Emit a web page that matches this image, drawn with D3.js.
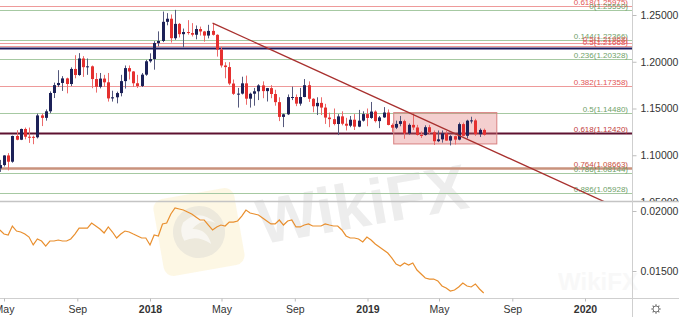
<!DOCTYPE html>
<html>
<head>
<meta charset="utf-8">
<script src="https://cdn.jsdelivr.net/npm/d3@7"></script>
<style>
  body { margin: 0; background: #fff; }
  svg { display: block; font-family: "Liberation Sans", Arial, sans-serif; }
</style>
</head>
<body>
<div id="chart"></div>
<script>
// weekly candles (week start)
var weeks = [
  "2017-04-24","2017-05-01","2017-05-08","2017-05-15","2017-05-22","2017-05-29","2017-06-05","2017-06-12","2017-06-19","2017-06-26",
  "2017-07-03","2017-07-10","2017-07-17","2017-07-24","2017-07-31","2017-08-07","2017-08-14","2017-08-21","2017-08-28","2017-09-04",
  "2017-09-11","2017-09-18","2017-09-25","2017-10-02","2017-10-09","2017-10-16","2017-10-23","2017-10-30","2017-11-06","2017-11-13",
  "2017-11-20","2017-11-27","2017-12-04","2017-12-11","2017-12-18","2017-12-25",
  "2018-01-01","2018-01-08","2018-01-15","2018-01-22","2018-01-29","2018-02-05","2018-02-12","2018-02-19","2018-02-26","2018-03-05",
  "2018-03-12","2018-03-19","2018-03-26","2018-04-02","2018-04-09","2018-04-16","2018-04-23","2018-04-30","2018-05-07","2018-05-14",
  "2018-05-21","2018-05-28","2018-06-04","2018-06-11","2018-06-18","2018-06-25","2018-07-02","2018-07-09","2018-07-16","2018-07-23",
  "2018-07-30","2018-08-06","2018-08-13","2018-08-20","2018-08-27","2018-09-03","2018-09-10","2018-09-17","2018-09-24","2018-10-01",
  "2018-10-08","2018-10-15","2018-10-22","2018-10-29","2018-11-05","2018-11-12","2018-11-19","2018-11-26","2018-12-03","2018-12-10",
  "2018-12-17","2018-12-24","2018-12-31",
  "2019-01-07","2019-01-14","2019-01-21","2019-01-28","2019-02-04","2019-02-11","2019-02-18","2019-02-25","2019-03-04","2019-03-11",
  "2019-03-18","2019-03-25","2019-04-01","2019-04-08","2019-04-15","2019-04-22","2019-04-29","2019-05-06","2019-05-13","2019-05-20",
  "2019-05-27","2019-06-03","2019-06-10","2019-06-17","2019-06-24","2019-07-01","2019-07-08","2019-07-15"
];

// open, high, low, close
var ohlc = [
  [1.0860,1.0950,1.0822,1.0895],[1.0895,1.1000,1.0880,1.0998],[1.0998,1.1023,1.0838,1.0931],[1.0931,1.1210,1.0920,1.1206],
  [1.1206,1.1268,1.1160,1.1166],[1.1166,1.1285,1.1162,1.1281],[1.1281,1.1296,1.1170,1.1198],[1.1198,1.1296,1.1132,1.1197],
  [1.1197,1.1210,1.1118,1.1192],[1.1192,1.1445,1.1180,1.1426],[1.1426,1.1445,1.1312,1.1400],[1.1400,1.1490,1.1370,1.1470],
  [1.1470,1.1683,1.1450,1.1666],[1.1666,1.1777,1.1612,1.1750],[1.1750,1.1910,1.1730,1.1773],[1.1773,1.1846,1.1688,1.1822],
  [1.1822,1.1830,1.1662,1.1762],[1.1762,1.1940,1.1740,1.1923],[1.1923,1.2070,1.1823,1.1858],[1.1858,1.2092,1.1850,1.2035],
  [1.2035,1.2060,1.1838,1.1942],[1.1942,1.2035,1.1860,1.1951],[1.1951,1.1960,1.1717,1.1815],[1.1815,1.1880,1.1670,1.1732],
  [1.1732,1.1880,1.1715,1.1820],[1.1820,1.1860,1.1730,1.1780],[1.1780,1.1880,1.1574,1.1608],[1.1608,1.1690,1.1574,1.1620],
  [1.1620,1.1680,1.1555,1.1665],[1.1665,1.1860,1.1630,1.1793],[1.1793,1.1960,1.1713,1.1932],[1.1932,1.1960,1.1810,1.1896],
  [1.1896,1.1900,1.1730,1.1770],[1.1770,1.1860,1.1720,1.1741],[1.1741,1.1880,1.1730,1.1862],[1.1862,1.2020,1.1850,1.2005],
  [1.2005,1.2090,1.1990,1.2029],[1.2029,1.2220,1.1915,1.2200],[1.2200,1.2325,1.2165,1.2222],[1.2222,1.2537,1.2210,1.2427],
  [1.2427,1.2520,1.2390,1.2460],[1.2460,1.2506,1.2205,1.2252],[1.2252,1.2555,1.2235,1.2405],[1.2405,1.2415,1.2260,1.2295],
  [1.2295,1.2355,1.2155,1.2318],[1.2318,1.2445,1.2290,1.2307],[1.2307,1.2413,1.2270,1.2289],[1.2289,1.2388,1.2240,1.2350],
  [1.2350,1.2376,1.2280,1.2324],[1.2324,1.2330,1.2215,1.2280],[1.2280,1.2395,1.2250,1.2330],[1.2330,1.2414,1.2280,1.2288],
  [1.2288,1.2294,1.2055,1.2130],[1.2130,1.2160,1.1938,1.1960],[1.1960,1.1995,1.1823,1.1943],[1.1943,1.1996,1.1750,1.1767],
  [1.1767,1.1810,1.1645,1.1657],[1.1657,1.1720,1.1510,1.1659],[1.1659,1.1840,1.1650,1.1769],[1.1769,1.1852,1.1540,1.1605],
  [1.1605,1.1670,1.1510,1.1658],[1.1658,1.1720,1.1530,1.1684],[1.1684,1.1760,1.1590,1.1747],[1.1747,1.1790,1.1610,1.1686],
  [1.1686,1.1720,1.1575,1.1718],[1.1718,1.1750,1.1610,1.1655],[1.1655,1.1700,1.1530,1.1568],[1.1568,1.1620,1.1365,1.1410],
  [1.1410,1.1445,1.1301,1.1438],[1.1438,1.1650,1.1430,1.1622],[1.1622,1.1734,1.1590,1.1623],[1.1623,1.1650,1.1525,1.1552],
  [1.1552,1.1720,1.1530,1.1623],[1.1623,1.1815,1.1620,1.1749],[1.1749,1.1790,1.1570,1.1604],[1.1604,1.1610,1.1460,1.1524],
  [1.1524,1.1620,1.1430,1.1560],[1.1560,1.1620,1.1430,1.1510],[1.1510,1.1550,1.1335,1.1403],[1.1403,1.1456,1.1300,1.1386],
  [1.1386,1.1500,1.1320,1.1334],[1.1334,1.1440,1.1216,1.1416],[1.1416,1.1470,1.1320,1.1337],[1.1337,1.1400,1.1265,1.1316],
  [1.1316,1.1420,1.1300,1.1380],[1.1380,1.1440,1.1270,1.1306],[1.1306,1.1485,1.1300,1.1370],[1.1370,1.1470,1.1360,1.1440],
  [1.1440,1.1500,1.1310,1.1399],
  [1.1399,1.1570,1.1390,1.1467],[1.1467,1.1480,1.1350,1.1365],[1.1365,1.1420,1.1290,1.1405],[1.1405,1.1515,1.1400,1.1457],
  [1.1457,1.1490,1.1320,1.1324],[1.1324,1.1340,1.1250,1.1295],[1.1295,1.1370,1.1280,1.1335],[1.1335,1.1420,1.1310,1.1365],
  [1.1365,1.1380,1.1176,1.1234],[1.1234,1.1340,1.1220,1.1325],[1.1325,1.1450,1.1270,1.1297],[1.1297,1.1325,1.1210,1.1217],
  [1.1217,1.1255,1.1185,1.1216],[1.1216,1.1320,1.1210,1.1300],[1.1300,1.1325,1.1225,1.1246],[1.1246,1.1265,1.1110,1.1150],
  [1.1150,1.1265,1.1140,1.1170],[1.1170,1.1265,1.1135,1.1234],[1.1234,1.1260,1.1155,1.1157],[1.1157,1.1215,1.1105,1.1204],
  [1.1204,1.1210,1.1115,1.1167],[1.1167,1.1350,1.1160,1.1333],[1.1333,1.1350,1.1202,1.1208],[1.1208,1.1380,1.1180,1.1370],
  [1.1370,1.1412,1.1340,1.1373],[1.1373,1.1390,1.1207,1.1225],[1.1225,1.1286,1.1195,1.1271],[1.1271,1.1285,1.1210,1.1220]
];

// lower panel indicator, one value per week
var atr = [
  0.01842,0.01808,0.01800,0.01875,0.01833,0.01825,0.01808,0.01783,0.01717,0.01767,
  0.01750,0.01708,0.01750,0.01750,0.01758,0.01750,0.01750,0.01767,0.01808,0.01858,
  0.01858,0.01858,0.01900,0.01875,0.01850,0.01817,0.01867,0.01825,0.01775,0.01808,
  0.01833,0.01825,0.01808,0.01792,0.01775,0.01775,0.01717,0.01800,0.01792,0.01892,
  0.01900,0.01975,0.02025,0.02017,0.02008,0.01992,0.01975,0.01950,0.01925,0.01925,
  0.01883,0.01842,0.01867,0.01883,0.01875,0.01908,0.01908,0.01917,0.01958,0.02008,
  0.01983,0.01975,0.01967,0.01942,0.01917,0.01892,0.01892,0.01925,0.01883,0.01917,
  0.01925,0.01867,0.01867,0.01883,0.01892,0.01875,0.01875,0.01875,0.01892,0.01883,
  0.01875,0.01875,0.01842,0.01792,0.01775,0.01775,0.01767,0.01742,0.01783,0.01758,
  0.01725,0.01700,0.01675,0.01650,0.01608,0.01558,0.01542,0.01567,0.01550,0.01567,
  0.01508,0.01475,0.01442,0.01433,0.01433,0.01417,0.01375,0.01358,0.01333,0.01342,
  0.01367,0.01400,0.01375,0.01367,0.01392,0.01350,0.01317
];

var priceTicks = [1.05, 1.10, 1.15, 1.20, 1.25];
var atrTicks = [0.015, 0.02];
var dateTicks = ["2017-05-01","2017-09-01","2018-01-01","2018-05-01","2018-09-01","2019-01-01","2019-05-01","2019-09-01","2020-01-01"];

// fibonacci / horizontal levels
var fibPrices = [1.25975, 1.25550, 1.22366, 1.21968, 1.21668, 1.21450, 1.20328, 1.17358, 1.14480, 1.12420, 1.08663, 1.08144, 1.05928];
var fibLabels = ["0.618(1.25975)", "0(1.25550)", "0.144(1.22366)", "0.5(1.21968)", "0.5(1.21668)", "", "0.236(1.20328)",
                 "0.382(1.17358)", "0.5(1.14480)", "0.618(1.12420)", "0.764(1.08663)", "0.786(1.08144)", "0.886(1.05928)"];
var fibSets = ["red", "green", "green", "red", "red", "navy", "green", "red", "green", "maroon", "brown", "green", "green"];

// drawn objects
var trendDates = ["2018-04-16", "2020-02-07"], trendPrices = [1.2414, 1.0490];
var boxDates = ["2019-02-14", "2019-08-06"], boxPrices = [1.1456, 1.1121];

var width = 679, height = 317;
var axisX = 632, upperBottom = 201, lowerBottom = 298;

var parse = d3.utcParse("%Y-%m-%d");

var svg = d3.select("#chart").append("svg")
    .attr("width", width)
    .attr("height", height);

var defs = svg.append("defs");
defs.append("clipPath").attr("id", "clipUp").append("rect")
    .attr("x", 0).attr("y", 0).attr("width", axisX).attr("height", upperBottom);
defs.append("clipPath").attr("id", "clipLow").append("rect")
    .attr("x", 0).attr("y", upperBottom + 1).attr("width", axisX).attr("height", lowerBottom - upperBottom - 1);
defs.append("clipPath").attr("id", "clipUpAxis").append("rect")
    .attr("x", axisX).attr("y", 0).attr("width", width - axisX).attr("height", upperBottom);

// scales
var x = d3.scaleUtc()
    .domain([parse("2018-01-01"), parse("2020-01-01")])
    .range([150, 585]);
var y = d3.scaleLinear().domain([1.05, 1.25]).range([202, 15]);
var y2 = d3.scaleLinear().domain([0.015, 0.02]).range([271, 211]);

var candles = weeks.map(function (w, i) {
    return { date: parse(w), o: ohlc[i][0], h: ohlc[i][1], l: ohlc[i][2], c: ohlc[i][3], atr: atr[i] };
});

// watermark
var wm = svg.append("g").attr("class", "watermark");
var logo = wm.append("g").attr("transform", "translate(199,232) rotate(-10)");
logo.append("rect")
    .attr("x", -41).attr("y", -39).attr("width", 82).attr("height", 78).attr("rx", 10)
    .attr("fill", "#f8e3a6").attr("opacity", 0.3);
logo.append("circle").attr("r", 26).attr("fill", "#cfcfcf").attr("opacity", 0.35);
logo.append("path")
    .attr("d", "M-14,-12 Q4,-24 18,-6 Q6,-14 -6,-4 Q8,-2 10,14 Q-2,2 -16,6 Q-20,-4 -14,-12Z")
    .attr("fill", "#fff").attr("opacity", 0.6);
wm.append("text")
    .attr("transform", "translate(366,226) rotate(-10)")
    .attr("text-anchor", "middle")
    .style("font-size", "64px")
    .style("font-weight", "bold")
    .attr("fill", "#c9c9c9")
    .attr("opacity", 0.32)
    .text("WikiFX");
wm.append("text")
    .attr("x", 598).attr("y", 290)
    .attr("text-anchor", "middle")
    .style("font-size", "24px")
    .style("font-weight", "bold")
    .attr("fill", "#ececec")
    .attr("opacity", 0.35)
    .text("WikiFX");

// ---------- upper panel ----------
var up = svg.append("g").attr("clip-path", "url(#clipUp)");

var lineColor = { green: "#a6c9a2", red: "#ee9a9a", navy: "#1f1d5e", maroon: "#5e1230", brown: "#c9927c" };
var lineWidth = { green: 1, red: 1, navy: 2, maroon: 2, brown: 2.5 };
var textColor = { green: "#6f9f69", red: "#e25555", navy: "#1f1d5e", maroon: "#c23a3a", brown: "#c9503e" };

fibPrices.forEach(function (p, i) {
    var yy = Math.round(y(p)) + 0.5;
    up.append("line")
        .attr("x1", 0).attr("x2", axisX)
        .attr("y1", yy).attr("y2", yy)
        .attr("stroke", lineColor[fibSets[i]])
        .attr("stroke-width", lineWidth[fibSets[i]]);
    if (fibLabels[i]) {
        up.append("text")
            .attr("x", axisX - 4).attr("y", yy - 2)
            .attr("text-anchor", "end")
            .style("font-size", "8px")
            .attr("fill", textColor[fibSets[i]])
            .text(fibLabels[i]);
    }
});

// highlight box
up.append("rect")
    .attr("x", x(parse(boxDates[0])))
    .attr("y", y(boxPrices[0]))
    .attr("width", x(parse(boxDates[1])) - x(parse(boxDates[0])))
    .attr("height", y(boxPrices[1]) - y(boxPrices[0]))
    .attr("fill", "rgba(222,110,110,0.33)")
    .attr("stroke", "#d88080")
    .attr("stroke-width", 1);

// candles
var upColor = "#1c2158", downColor = "#e5302f";
var cg = up.append("g");
cg.selectAll("line.wick")
    .data(candles)
    .enter().append("line")
    .attr("class", "wick")
    .attr("x1", function (d) { return Math.round(x(d.date)) + 0.5; })
    .attr("x2", function (d) { return Math.round(x(d.date)) + 0.5; })
    .attr("y1", function (d) { return y(d.h); })
    .attr("y2", function (d) { return y(d.l); })
    .attr("stroke", function (d) { return d.c >= d.o ? "#55597d" : "#ec6b6b"; })
    .attr("stroke-width", 1);
cg.selectAll("rect.body")
    .data(candles)
    .enter().append("rect")
    .attr("class", "body")
    .attr("x", function (d) { return Math.round(x(d.date)) - 1; })
    .attr("width", 3)
    .attr("y", function (d) { return y(Math.max(d.o, d.c)); })
    .attr("height", function (d) { return Math.max(1, Math.abs(y(d.o) - y(d.c))); })
    .attr("fill", function (d) { return d.c >= d.o ? upColor : downColor; });

// trendline
up.append("line")
    .attr("x1", x(parse(trendDates[0]))).attr("y1", y(trendPrices[0]))
    .attr("x2", x(parse(trendDates[1]))).attr("y2", y(trendPrices[1]))
    .attr("stroke", "#a8302e")
    .attr("stroke-width", 1.3);

// ---------- lower panel ----------
var low = svg.append("g").attr("clip-path", "url(#clipLow)");
low.append("path")
    .datum(candles)
    .attr("fill", "none")
    .attr("stroke", "#e98f2e")
    .attr("stroke-width", 1.2)
    .attr("d", d3.line()
        .x(function (d) { return x(d.date); })
        .y(function (d) { return y2(d.atr); }));

// ---------- frame lines ----------
svg.append("line").attr("x1", 0).attr("x2", width).attr("y1", upperBottom + 0.5).attr("y2", upperBottom + 0.5)
    .attr("stroke", "#c4c4c4").attr("stroke-width", 1.5);
svg.append("line").attr("x1", 0).attr("x2", width).attr("y1", lowerBottom + 0.5).attr("y2", lowerBottom + 0.5)
    .attr("stroke", "#cfcfcf");
svg.append("line").attr("x1", axisX + 0.5).attr("x2", axisX + 0.5).attr("y1", 0).attr("y2", height)
    .attr("stroke", "#cfcfcf");

// ---------- axes ----------
function styleAxis(g) {
    g.select(".domain").remove();
    g.selectAll(".tick line").attr("stroke", "#bdbdbd");
    g.selectAll(".tick text").attr("fill", "#333").style("font-size", "10.5px")
        .style("font-family", "'Liberation Sans', Arial, sans-serif");
}

svg.append("g")
    .attr("clip-path", "url(#clipUpAxis)")
    .append("g")
    .attr("transform", "translate(" + (axisX + 0.5) + ",0)")
    .call(d3.axisRight(y).tickValues(priceTicks).tickFormat(d3.format(".5f")).tickSize(4).tickPadding(4))
    .call(styleAxis);

svg.append("g")
    .attr("transform", "translate(" + (axisX + 0.5) + ",0)")
    .call(d3.axisRight(y2).tickValues(atrTicks).tickFormat(d3.format(".5f")).tickSize(4).tickPadding(4))
    .call(styleAxis);

var xAxis = svg.append("g")
    .attr("transform", "translate(0," + (lowerBottom + 0.5) + ")")
    .call(d3.axisBottom(x)
        .tickValues(dateTicks.map(parse))
        .tickSize(3)
        .tickPadding(4)
        .tickFormat(function (d) { return d.getUTCMonth() === 0 ? d3.utcFormat("%Y")(d) : d3.utcFormat("%b")(d); }))
    .call(styleAxis);
xAxis.selectAll(".tick text")
    .style("font-weight", function (d) { return d.getUTCMonth() === 0 ? "bold" : "normal"; });

// settings gear in the corner
var gear = svg.append("g").attr("transform", "translate(656,309)");
gear.append("circle").attr("r", 3).attr("fill", "none").attr("stroke", "#777").attr("stroke-width", 1);
gear.selectAll("line")
    .data(d3.range(8))
    .enter().append("line")
    .attr("x1", function (d) { return 3 * Math.cos(d * Math.PI / 4); })
    .attr("y1", function (d) { return 3 * Math.sin(d * Math.PI / 4); })
    .attr("x2", function (d) { return 4.8 * Math.cos(d * Math.PI / 4); })
    .attr("y2", function (d) { return 4.8 * Math.sin(d * Math.PI / 4); })
    .attr("stroke", "#777").attr("stroke-width", 1.2);
</script>
</body>
</html>
